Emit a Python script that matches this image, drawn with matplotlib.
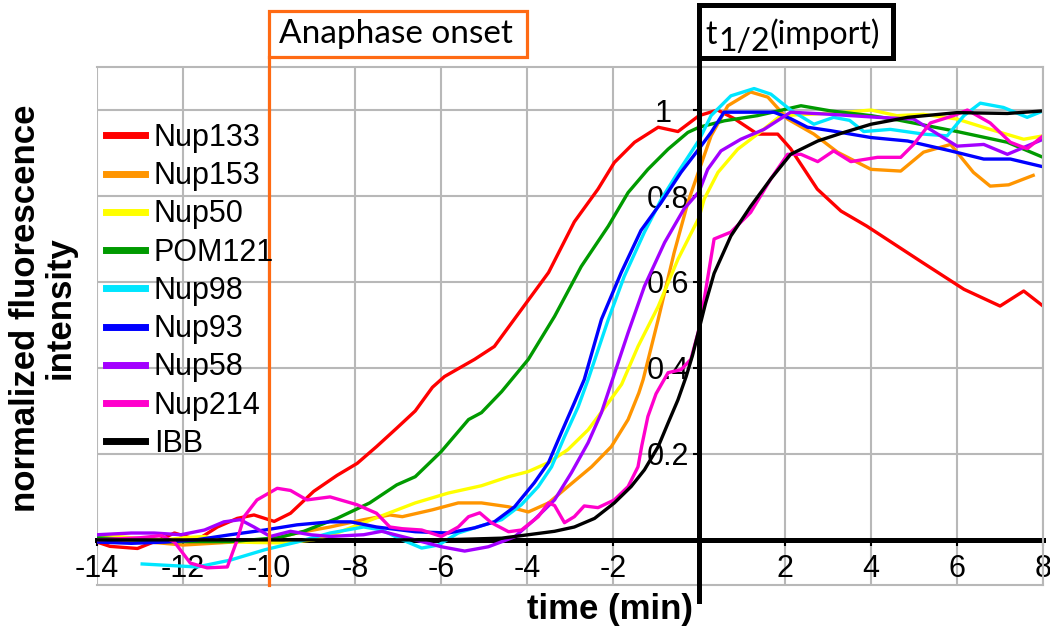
import matplotlib
matplotlib.use("Agg")
import matplotlib.pyplot as plt
from matplotlib.patches import Rectangle
from matplotlib.transforms import blended_transform_factory

plt.rcParams['font.family'] = ['Liberation Sans', 'DejaVu Sans']

# time (min) relative to t1/2 of IBB import, normalized intensity
nup133_t = [-14, -13.7, -13.06, -12.44, -12.2, -11.67, -11.2, -10.74, -10.35, -9.88, -9.5, -8.96, -8.42,
            -7.95, -7.5, -7.03, -6.6, -6.2, -5.92, -5.22, -4.76, -4.13, -3.5, -2.9, -2.35, -1.97, -1.5,
            -0.95, -0.49, 0, 0.43, 0.82, 1.36, 1.83, 2.13, 2.75, 3.3, 3.9, 5.2, 6.16, 7.0, 7.55, 8]
nup133_y = [-0.005, -0.015, -0.02, 0.005, 0.016, 0.0, 0.03, 0.05, 0.058, 0.043, 0.062, 0.113, 0.15,
            0.178, 0.217, 0.26, 0.30, 0.355, 0.38, 0.42, 0.45, 0.536, 0.622, 0.74, 0.816, 0.878, 0.925,
            0.96, 0.95, 0.987, 1.0, 0.98, 0.944, 0.944, 0.91, 0.816, 0.765, 0.73, 0.645, 0.583, 0.544, 0.579, 0.544]

nup153_t = [-14, -13, -12, -11, -10, -9.35, -8.58, -7.8, -7.19, -6.9, -6.2, -5.6, -5.06, -4.43, -3.97,
            -3.5, -3.05, -2.5, -2.04, -1.65, -1.4, -1.3, -0.95, -0.58, -0.26, 0.0, 0.28, 0.67, 1.2, 1.6,
            2.06, 2.67, 3.22, 4.0, 4.69, 5.22, 5.85, 6.38, 6.77, 7.2, 7.77]
nup153_y = [0.0, -0.003, -0.012, -0.006, 0.0, 0.016, 0.03, 0.047, 0.058, 0.054, 0.07, 0.086, 0.086, 0.077,
            0.065, 0.086, 0.124, 0.17, 0.217, 0.28, 0.342, 0.373, 0.513, 0.668, 0.785, 0.86, 0.94, 1.01,
            1.042, 1.03, 0.979, 0.944, 0.902, 0.862, 0.858, 0.902, 0.92, 0.855, 0.823, 0.826, 0.848]

nup50_t = [-14, -13.2, -12.44, -11.98, -11.5, -11.05, -10.35, -9.66, -8.96, -8.42, -7.8, -7.33, -6.6,
           -5.83, -5.06, -4.43, -3.97, -3.5, -3.05, -2.58, -2.11, -1.8, -1.42, -0.95, -0.49, 0.0, 0.12,
           0.44, 0.9, 1.36, 1.9, 2.52, 3.3, 4.0, 4.6, 5.22, 6.0, 6.77, 7.55, 8.0]
nup50_y = [0.012, 0.005, 0.0, 0.005, 0.008, -0.004, -0.006, -0.007, 0.0, 0.016, 0.04, 0.058, 0.086,
           0.109, 0.126, 0.147, 0.159, 0.18, 0.21, 0.256, 0.319, 0.362, 0.45, 0.543, 0.653, 0.75, 0.793,
           0.855, 0.909, 0.944, 0.987, 0.99, 0.994, 1.0, 0.987, 0.99, 0.979, 0.955, 0.932, 0.94]

pom121_t = [-14, -12.44, -10.9, -9.8, -9.19, -8.42, -7.66, -7.03, -6.6, -6.0, -5.36, -5.06, -4.59, -3.97,
            -3.36, -2.74, -2.11, -1.65, -1.19, -0.72, -0.26, 0.0, 0.59, 1.36, 2.37, 3.06, 4.0, 4.62, 6.0,
            7.17, 8]
pom121_y = [0.005, -0.004, -0.004, 0.005, 0.02, 0.05, 0.086, 0.128, 0.147, 0.205, 0.28, 0.296, 0.345, 0.42,
            0.52, 0.636, 0.73, 0.808, 0.862, 0.909, 0.948, 0.96, 0.975, 0.987, 1.01, 0.998, 0.987, 0.977,
            0.95, 0.925, 0.89]

nup98_t = [-12.95, -11.67, -10.9, -10.1, -9.35, -8.58, -7.8, -7.38, -6.9, -6.45, -6.06, -5.6, -5.06, -4.59,
           -4.13, -3.74, -3.43, -3.13, -2.81, -2.58, -2.11, -1.74, -1.27, -0.88, -0.49, 0.0, 0.28, 0.74,
           1.28, 1.67, 2.13, 2.67, 3.13, 3.5, 3.83, 4.45, 5.22, 5.77, 6.16, 6.54, 7.08, 7.63, 8.0]
nup98_y = [-0.056, -0.063, -0.047, -0.023, -0.005, 0.016, 0.03, 0.023, 0.0, -0.019, -0.012, 0.016, 0.033,
           0.047, 0.082, 0.124, 0.17, 0.24, 0.31, 0.373, 0.513, 0.613, 0.716, 0.792, 0.855, 0.93, 0.987,
           1.033, 1.05, 1.037, 1.0, 0.967, 0.983, 0.976, 0.95, 0.955, 0.944, 0.94, 0.987, 1.016, 1.006,
           0.983, 0.998]

nup93_t = [-14, -13.2, -12.4, -11.7, -10.9, -10.1, -9.35, -8.58, -8.1, -7.5, -6.6, -5.83, -5.22, -4.76,
           -4.29, -3.83, -3.5, -3.2, -2.9, -2.67, -2.27, -1.81, -1.35, -0.88, -0.42, 0.0, 0.28, 0.58, 1.13,
           1.74, 2.13, 2.52, 3.06, 4.0, 4.85, 5.85, 6.62, 7.24, 8.0]
nup93_y = [-0.005, -0.008, -0.005, 0.0, 0.012, 0.023, 0.035, 0.042, 0.042, 0.03, 0.019, 0.016, 0.028,
           0.042, 0.077, 0.133, 0.18, 0.25, 0.319, 0.373, 0.513, 0.622, 0.72, 0.785, 0.855, 0.91, 0.948,
           0.995, 0.995, 0.995, 0.98, 0.96, 0.952, 0.936, 0.928, 0.905, 0.886, 0.886, 0.868]

nup58_t = [-14, -13.2, -12.67, -12.05, -11.5, -11.05, -10.67, -10.35, -9.97, -9.5, -9.04, -8.58, -7.8,
           -7.38, -6.6, -5.99, -5.45, -4.9, -4.29, -3.83, -3.36, -2.97, -2.58, -2.27, -2.04, -1.65, -1.27,
           -0.8, -0.35, 0.0, 0.2, 0.51, 0.97, 1.51, 2.13, 3.06, 4.15, 4.99, 5.55, 6.0, 6.62, 7.17, 8.0]
nup58_y = [0.012, 0.016, 0.016, 0.012, 0.023, 0.042, 0.047, 0.03, 0.008, 0.02, 0.012, 0.008, 0.012, 0.02,
           0.0, -0.016, -0.026, -0.016, 0.007, 0.047, 0.093, 0.156, 0.226, 0.296, 0.365, 0.482, 0.59,
           0.692, 0.77, 0.81, 0.862, 0.905, 0.932, 0.955, 0.995, 0.99, 0.983, 0.979, 0.944, 0.916, 0.92,
           0.897, 0.932]

nup214_t = [-14, -13, -12.5, -12.2, -11.83, -11.44, -10.97, -10.74, -10.58, -10.28, -9.81, -9.5, -9.12,
            -8.58, -7.96, -7.5, -7.19, -6.9, -6.45, -5.99, -5.6, -5.36, -5.1, -4.83, -4.43, -4.13, -3.74,
            -3.5, -3.36, -3.13, -2.9, -2.67, -2.35, -1.97, -1.65, -1.42, -1.33, -1.19, -1.0, -0.72, -0.42,
            -0.19, -0.02, 0.12, 0.35, 0.74, 1.2, 1.67, 2.06, 2.37, 2.76, 3.13, 3.53, 4.15, 4.69, 4.99, 5.38,
            5.92, 6.24, 6.77, 7.24, 7.63, 8.0]
nup214_y = [0.0, 0.005, 0.01, -0.005, -0.054, -0.065, -0.063, 0.0, 0.054, 0.093, 0.12, 0.115, 0.093, 0.1,
            0.082, 0.062, 0.03, 0.026, 0.023, 0.008, 0.03, 0.054, 0.063, 0.04, 0.019, 0.023, 0.054, 0.086,
            0.08, 0.04, 0.054, 0.079, 0.075, 0.093, 0.124, 0.17, 0.22, 0.287, 0.34, 0.389, 0.396, 0.42,
            0.483, 0.56, 0.7, 0.716, 0.762, 0.84, 0.897, 0.897, 0.88, 0.905, 0.88, 0.89, 0.89, 0.92, 0.97,
            0.987, 1.0, 0.97, 0.925, 0.91, 0.94]

ibb_t = [-14, -10, -6, -4.59, -3.97, -3.36, -2.9, -2.43, -1.97, -1.58, -1.27, -0.95, -0.72, -0.49, -0.3,
         -0.15, 0.0, 0.15, 0.35, 0.74, 1.2, 1.67, 2.13, 2.76, 3.37, 4.0, 4.85, 6.0, 7.17, 8.0]
ibb_y = [0.0, 0.0, 0.0, 0.004, 0.012, 0.02, 0.03, 0.05, 0.086, 0.124, 0.163, 0.217, 0.272, 0.326, 0.38,
         0.43, 0.49, 0.55, 0.62, 0.707, 0.776, 0.84, 0.897, 0.928, 0.948, 0.967, 0.983, 0.994, 0.992, 0.998]

series = [('Nup133', nup133_t, nup133_y, '#ff0000'),
          ('Nup153', nup153_t, nup153_y, '#ff9500'),
          ('Nup50', nup50_t, nup50_y, '#ffff00'),
          ('POM121', pom121_t, pom121_y, '#009a00'),
          ('Nup98', nup98_t, nup98_y, '#00e6ff'),
          ('Nup93', nup93_t, nup93_y, '#0000ff'),
          ('Nup58', nup58_t, nup58_y, '#a300ff'),
          ('Nup214', nup214_t, nup214_y, '#ff00cc'),
          ('IBB', ibb_t, ibb_y, '#000000')]

xticks = list(range(-14, 9, 2))
xtick_labels = [str(t) if t != 0 else '' for t in xticks]
yticks = [0.2, 0.4, 0.6, 0.8, 1.0]
ytick_labels = ['0.2', '0.4', '0.6', '0.8', '1  ']

fig = plt.figure(figsize=(10.5, 6.35), dpi=100)
ax = fig.add_axes([0.0924, 0.0787, 0.901, 0.8157])

for name, t, y, c in series:
    ax.plot(t, y, color=c, lw=2.4, label=name, zorder=2, solid_joinstyle='round')

ax.set_xlim(-14, 8)
ax.set_ylim(-0.105, 1.1)
ax.set_axisbelow(True)
ax.grid(True, color='#b8b8b8', lw=1.5)

ax.set_xticks(xticks)
ax.set_xticklabels(xtick_labels)
ax.set_yticks(yticks)
ax.set_yticklabels(ytick_labels)
ax.tick_params(axis='x', length=4, width=1.5, pad=6, labelsize=22)
ax.tick_params(axis='y', length=4, width=1.5, pad=3, labelsize=22)

ax.spines['left'].set_position(('data', 0))
ax.spines['left'].set_visible(False)
ax.spines['bottom'].set_position(('data', 0))
ax.spines['bottom'].set_color('black')
ax.spines['bottom'].set_linewidth(3.6)
ax.spines['bottom'].set_zorder(1.9)
for s in ['top', 'right']:
    ax.spines[s].set_color('#b8b8b8')
    ax.spines[s].set_linewidth(1.5)
# lower edge of the frame
ax.plot([0, 1], [0, 0], transform=ax.transAxes, color='#b8b8b8', lw=1.5, clip_on=False, zorder=1)

ax.set_xlabel('time (min)', fontsize=25, fontweight='bold')
ax.xaxis.set_label_coords(0.542, -0.015)
ax.set_ylabel('normalized fluorescence\nintensity', fontsize=25, fontweight='bold', linespacing=1.05)
ax.yaxis.set_label_coords(-0.022, 0.535)

ax.legend(loc='upper left', bbox_to_anchor=(0.0095, 0.892), frameon=False, fontsize=22,
          handlelength=1.27, handletextpad=0.3, labelspacing=0.27, borderpad=0, borderaxespad=0)
for h in ax.get_legend().get_lines():
    h.set_linewidth(5)

# event markers
trans = blended_transform_factory(ax.transData, ax.transAxes)
box_font = ['Lato', 'DejaVu Sans']
ax.axvline(-10, ymin=0, ymax=1.02, color='#ff6a13', lw=2.3, clip_on=False, zorder=3)
ax.add_patch(Rectangle((-10, 1.019), 6, 0.09, transform=trans, fc='white', ec='#ff6a13',
                       lw=2.3, clip_on=False, zorder=4))
ax.text(-7.05, 1.064, 'Anaphase onset', transform=trans, ha='center', va='center', fontsize=24,
        family=box_font, zorder=5)

ax.axvline(0, ymin=-0.03, ymax=1.12, color='black', lw=3.6, clip_on=False, zorder=3)
ax.add_patch(Rectangle((0, 1.017), 4.5, 0.103, transform=trans, fc='white', ec='black',
                       lw=3.6, clip_on=False, zorder=4))
t_main = ax.text(0.14, 1.045, 't', transform=trans, ha='left', va='baseline', fontsize=23,
                 family=box_font, zorder=5)
t_sub = ax.annotate('1/2', xy=(1, 0), xycoords=t_main, xytext=(1, -5), textcoords='offset points',
                    ha='left', va='bottom', fontsize=23, family=box_font, zorder=5)
ax.annotate('(import)', xy=(1, 0), xycoords=t_sub, xytext=(0, 5), textcoords='offset points',
            ha='left', va='bottom', fontsize=23, family=box_font, zorder=5)

fig.savefig('out.png', dpi=100)
